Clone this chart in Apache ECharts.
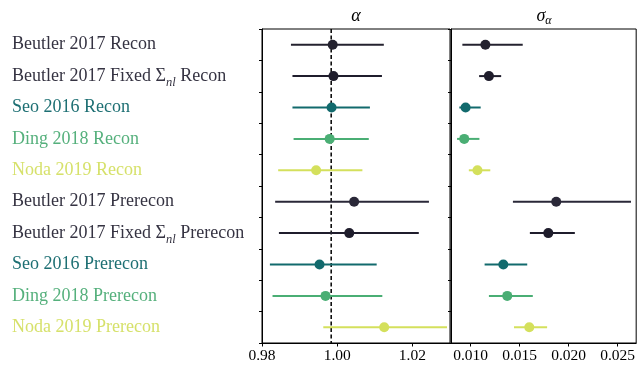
<!DOCTYPE html>
<html><head><meta charset="utf-8">
<script src="https://cdn.jsdelivr.net/npm/echarts@6/dist/echarts.min.js"></script>
<style>html,body{margin:0;padding:0;background:#fff}#c{width:638px;height:367px}</style>
</head><body><div id="c"></div>
<script>
// ---- data ----
const labels = [
  'Beutler 2017 Recon',
  'Beutler 2017 Fixed Σ_nl Recon',
  'Seo 2016 Recon',
  'Ding 2018 Recon',
  'Noda 2019 Recon',
  'Beutler 2017 Prerecon',
  'Beutler 2017 Fixed Σ_nl Prerecon',
  'Seo 2016 Prerecon',
  'Ding 2018 Prerecon',
  'Noda 2019 Prerecon'
];
const alphaMean = [0.9988, 0.9990, 0.9985, 0.9980, 0.9944, 1.0045, 1.0032, 0.9953, 0.9969, 1.0125];
const alphaLow  = [0.9877, 0.9881, 0.9881, 0.9884, 0.9843, 0.9835, 0.9845, 0.9821, 0.9828, 0.9963];
const alphaHigh = [1.0124, 1.0119, 1.0087, 1.0084, 1.0067, 1.0244, 1.0217, 1.0105, 1.0120, 1.0292];
const sigmaMean = [0.01151, 0.01187, 0.00949, 0.00935, 0.01070, 0.01874, 0.01793, 0.01334, 0.01374, 0.01599];
const sigmaLow  = [0.00916, 0.01087, 0.00885, 0.00862, 0.00982, 0.01432, 0.01605, 0.01143, 0.01187, 0.01443];
const sigmaHigh = [0.01532, 0.01312, 0.01103, 0.01090, 0.01201, 0.02637, 0.02064, 0.01578, 0.01635, 0.01781];
const alphaRef = 0.9984;
const alphaTicks = [0.98, 1.00, 1.02];
const sigmaTicks = [0.010, 0.015, 0.020, 0.025];

// ---- style ----
const colors = ['#24222f', '#1f1d2c', '#126a6d', '#4aae74', '#d4e05c',
                '#2a2838', '#1f1d2c', '#126a6d', '#4aae74', '#d4e05c'];
const labelColors = ['#353342', '#353342', '#1d6f73', '#55b07c', '#d6e16a',
                     '#353342', '#353342', '#1d6f73', '#55b07c', '#d6e16a'];
const FONT = 'Liberation Serif';

const chart = echarts.init(document.getElementById('c'), null, {renderer: 'canvas'});

function errRender(params, api) {
  const y = api.value(1);
  const p1 = api.coord([api.value(0), y]);
  const p2 = api.coord([api.value(2), y]);
  return {type: 'line', shape: {x1: p1[0], y1: p1[1], x2: p2[0], y2: p2[1]},
          style: {stroke: colors[params.dataIndex], lineWidth: 2}};
}

function refRender(params, api) {
  const cs = params.coordSys;
  const x = api.coord([api.value(0), 0])[0];
  return {type: 'line', shape: {x1: x, y1: cs.y, x2: x, y2: cs.y + cs.height},
          style: {stroke: '#000', lineWidth: 1.5, lineDash: [4, 2.5]}};
}

const grids = [
  {left: 262, top: 29, width: 188, height: 314, show: true, borderColor: '#000', borderWidth: 1},
  {left: 451, top: 29, width: 188, height: 314, show: true, borderColor: '#000', borderWidth: 1}
];

function xAxisFor(i, min, max, ticks, dec) {
  return {
    type: 'value', gridIndex: i, min: min, max: max,
    splitLine: {show: false},
    axisLine: {show: true, onZero: false, lineStyle: {color: '#000', width: 1}},
    axisTick: {show: true, length: 3.5, lineStyle: {color: '#000'}, customValues: ticks},
    axisLabel: {show: true, color: '#000', fontFamily: FONT, fontSize: 15.5, margin: 4.5,
                customValues: ticks, formatter: v => v.toFixed(dec)}
  };
}

function yAxisFor(i, showLabels) {
  return {
    type: 'category', gridIndex: i, data: labels, inverse: true,
    axisLine: {show: true, lineStyle: {color: '#000', width: 1}},
    axisTick: {show: true, length: 3, lineStyle: {color: '#000'}},
    splitLine: {show: false},
    axisLabel: showLabels ? {
      show: true, align: 'left', margin: 250, fontFamily: FONT, fontSize: 18, lineHeight: 26,
      color: (v, idx) => labelColors[idx],
      formatter: v => v.replace('Σ_nl', '{S|Σ}{sub|nl}'),
      rich: {
        S: {fontFamily: FONT, fontSize: 18},
        sub: {fontFamily: FONT, fontSize: 12.5, fontStyle: 'italic', verticalAlign: 'bottom'}
      }
    } : {show: false}
  };
}

chart.setOption({
  animation: false,
  backgroundColor: '#fff',
  grid: grids,
  xAxis: [xAxisFor(0, 0.98, 1.03, alphaTicks, 2), xAxisFor(1, 0.008, 0.0269, sigmaTicks, 3)],
  yAxis: [yAxisFor(0, true), yAxisFor(1, false)],
  graphic: [
    {type: 'text', x: 356, y: 16, style: {text: 'α', fontFamily: FONT, fontStyle: 'italic', fontSize: 18,
      fill: '#000', align: 'center', verticalAlign: 'middle'}},
    {type: 'text', x: 544, y: 16, style: {text: '{s|σ}{a|α}', fill: '#000', align: 'center', verticalAlign: 'middle',
      lineHeight: 22,
      rich: {s: {fontFamily: FONT, fontStyle: 'italic', fontSize: 18},
             a: {fontFamily: FONT, fontStyle: 'italic', fontSize: 12, verticalAlign: 'bottom'}}}}
  ],
  series: [
    {type: 'custom', xAxisIndex: 0, yAxisIndex: 0, renderItem: refRender, z: 2, silent: true,
     data: [[alphaRef, 0]]},
    {type: 'custom', xAxisIndex: 0, yAxisIndex: 0, renderItem: errRender, z: 3,
     data: labels.map((l, i) => [alphaLow[i], i, alphaHigh[i]])},
    {type: 'scatter', xAxisIndex: 0, yAxisIndex: 0, symbolSize: 10, z: 4,
     data: labels.map((l, i) => ({value: [alphaMean[i], i], itemStyle: {color: colors[i], opacity: 1}}))},
    {type: 'custom', xAxisIndex: 1, yAxisIndex: 1, renderItem: errRender, z: 3,
     data: labels.map((l, i) => [sigmaLow[i], i, sigmaHigh[i]])},
    {type: 'scatter', xAxisIndex: 1, yAxisIndex: 1, symbolSize: 10, z: 4,
     data: labels.map((l, i) => ({value: [sigmaMean[i], i], itemStyle: {color: colors[i], opacity: 1}}))}
  ]
});
</script>
</body></html>
